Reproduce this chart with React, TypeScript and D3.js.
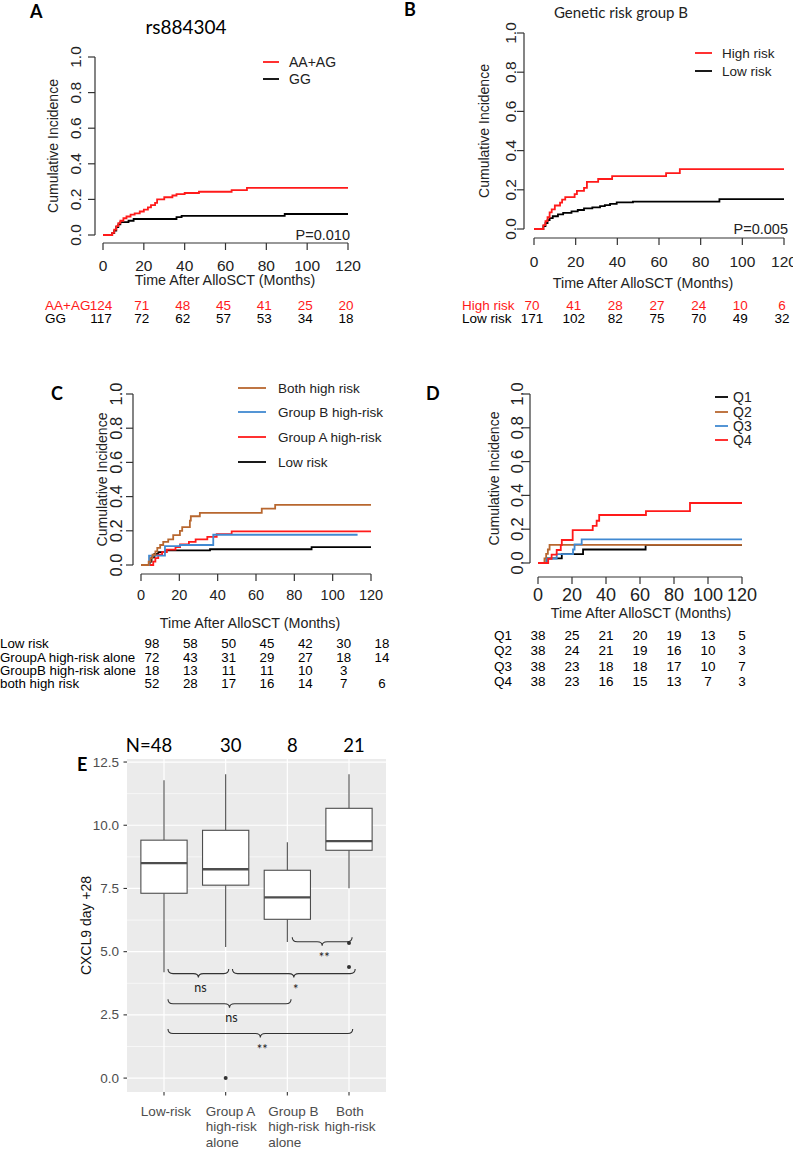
import React from "react";
import * as d3 from "d3";

// shared KM axes
const monthTicks = [0, 20, 40, 60, 80, 100, 120];
const incidenceTicks = [0, 0.2, 0.4, 0.6, 0.8, 1.0];

// panel A: rs884304  [month, cumulative incidence]
const aaAgSteps = [[0, 0], [4.5, 0.012], [5.5, 0.03], [6.5, 0.05], [7.5, 0.066], [8.5, 0.08], [10, 0.094], [11.5, 0.104], [13.5, 0.114], [15.5, 0.122], [18, 0.132], [20, 0.142], [22, 0.155], [23.5, 0.168], [25.5, 0.18], [26.5, 0.2], [30, 0.212], [34, 0.222], [36, 0.23], [40, 0.236], [47, 0.243], [63, 0.252], [70.5, 0.265]];
const ggSteps = [[0, 0], [4.5, 0.01], [5.5, 0.025], [6.5, 0.045], [7.5, 0.06], [8.5, 0.072], [12.5, 0.08], [15, 0.09], [36, 0.1], [38.5, 0.107], [89, 0.118]];
const aaAgAtRisk = [124, 71, 48, 45, 41, 25, 20];
const ggAtRisk = [117, 72, 62, 57, 53, 34, 18];

// panel B: genetic risk group B
const highRiskSteps = [[0, 0], [4.5, 0.02], [5.5, 0.04], [6.5, 0.06], [7.5, 0.085], [8.5, 0.1], [10, 0.12], [12.5, 0.135], [13.5, 0.15], [15, 0.163], [19.5, 0.178], [20.6, 0.195], [24, 0.21], [25.4, 0.24], [30.8, 0.255], [37.5, 0.27], [63.4, 0.285], [70, 0.305]];
const lowRiskSteps = [[0, 0], [4.5, 0.015], [5.5, 0.03], [6.5, 0.045], [7.5, 0.055], [9, 0.065], [11.5, 0.075], [14, 0.082], [18, 0.09], [21, 0.097], [24, 0.105], [28, 0.11], [31.7, 0.117], [34, 0.122], [36.5, 0.128], [39.7, 0.136], [47.5, 0.14], [89, 0.152]];
const highRiskAtRisk = [70, 41, 28, 27, 24, 10, 6];
const lowRiskAtRisk = [171, 102, 82, 75, 70, 49, 32];

// panel C: combined groups
const bothSteps = [[0, 0], [4, 0.02], [5, 0.04], [6, 0.06], [7.5, 0.08], [8.5, 0.1], [10, 0.117], [11.6, 0.135], [14.2, 0.15], [16.8, 0.175], [20.3, 0.2], [21.5, 0.222], [25.5, 0.26], [26, 0.285], [30.7, 0.305], [63, 0.33], [70, 0.352]];
const groupBSteps = [[0, 0], [4.2, 0.055], [12.5, 0.11], [20.4, 0.117], [37.7, 0.177]];
const groupASteps = [[0, 0], [6.4, 0.02], [7.5, 0.04], [9, 0.06], [11, 0.075], [13.5, 0.09], [18, 0.105], [20.4, 0.12], [25, 0.135], [28.5, 0.15], [34.6, 0.165], [39.5, 0.18], [47.3, 0.197]];
const cLowSteps = [[0, 0], [4.5, 0.02], [5.5, 0.045], [7, 0.065], [9, 0.075], [13, 0.085], [36, 0.092], [89, 0.105]];
const cLowAtRisk = [98, 58, 50, 45, 42, 30, 18];
const cGroupAAtRisk = [72, 43, 31, 29, 27, 18, 14];
const cGroupBAtRisk = [18, 13, 11, 11, 10, 3, null];
const cBothAtRisk = [52, 28, 17, 16, 14, 7, 6];

// panel D: quartiles
const q1Steps = [[0, 0], [5, 0.027], [14, 0.053], [26.5, 0.08], [63.3, 0.107]];
const q2Steps = [[0, 0], [3.8, 0.027], [4.8, 0.054], [5.8, 0.08], [6.8, 0.107]];
const q3Steps = [[0, 0], [5.3, 0.026], [11, 0.053], [20.6, 0.08], [21.5, 0.11], [25.7, 0.14]];
const q4Steps = [[0, 0], [6, 0.025], [8, 0.05], [11, 0.077], [13.4, 0.106], [14, 0.136], [20.4, 0.195], [32.2, 0.22], [34.5, 0.25], [36, 0.284], [63.5, 0.307], [89.4, 0.355]];
const q1AtRisk = [38, 25, 21, 20, 19, 13, 5];
const q2AtRisk = [38, 24, 21, 19, 16, 10, 3];
const q3AtRisk = [38, 23, 18, 18, 17, 10, 7];
const q4AtRisk = [38, 23, 16, 15, 13, 7, 3];

// panel E: CXCL9 day +28 boxplots
const boxGroups = [["Low-risk"], ["Group A", "high-risk", "alone"], ["Group B", "high-risk", "alone"], ["Both", "high-risk"]];
const boxN = ["N=48", "30", "8", "21"];
const boxLow = [4.19, 5.18, 5.38, 7.51];
const boxQ1 = [7.31, 7.63, 6.28, 9.01];
const boxMedian = [8.5, 8.26, 7.15, 9.37];
const boxQ3 = [9.41, 9.8, 8.22, 10.67];
const boxHigh = [11.78, 12.02, 9.33, 12.02];
const boxOutliers = [[], [0.0], [], [5.34, 4.39]];
const cxclTicks = [0, 2.5, 5, 7.5, 10, 12.5];
const cxclMinor = [1.25, 3.75, 6.25, 8.75, 11.25];

// comparison braces (group index units) and their labels
const braceFrom = [0.065, 1.11, 0.065, 0.065, 2.08];
const braceTo = [1.05, 3.1, 2.06, 3.06, 3.05];
const braceY = [4.31, 4.31, 3.12, 1.94, 5.57];
const braceLabel = ["ns", "*", "ns", "**", "**"];

const RF = "'Liberation Sans', Arial, Helvetica, sans-serif";
const TF = "Lato, 'Open Sans', sans-serif";
const RED = "#ff1a1a";
const BROWN = "#b8672f";
const BLUE = "#4189d1";

type Curve = { steps: number[][]; end: number; color: string };
type Row = { label: string; values: (number | null)[]; color: string };
type KMSpec = {
  xr: [number, number];
  yr: [number, number];
  xAxisY: number;
  yAxisX: number;
  xTickSize: number;
  yTickSize: number;
  xLabelY: number;
  yLabelX: number;
  xTitle: [number, number];
  yTitleX: number;
  curves: Curve[];
  legend: { x1: number; x2: number; tx: number; ys: number[]; labels: string[]; colors: string[]; size: number };
  table: { rows: Row[]; labelX: number; shift: number; ys: number[]; size: number };
  pText?: [string, number, number];
};

function KMPanel({ p }: { p: KMSpec }) {
  const x = d3.scaleLinear().domain([0, 120]).range(p.xr);
  const y = d3.scaleLinear().domain([0, 1]).range(p.yr);
  const line = d3
    .line<number[]>()
    .x((d) => x(d[0]))
    .y((d) => y(d[1]))
    .curve(d3.curveStepAfter);
  const ax = "#333";
  return (
    <g fontFamily={RF}>
      <line x1={p.yAxisX} x2={p.yAxisX} y1={y(0)} y2={y(1)} stroke={ax} strokeWidth={1.2} />
      {incidenceTicks.map((v) => (
        <g key={v}>
          <line x1={p.yAxisX - 7} x2={p.yAxisX} y1={y(v)} y2={y(v)} stroke={ax} strokeWidth={1.2} />
          <text
            transform={`translate(${p.yLabelX},${y(v)}) rotate(-90)`}
            textAnchor="middle"
            dominantBaseline="central"
            fontSize={p.yTickSize}
            fill="#222"
          >
            {v.toFixed(1)}
          </text>
        </g>
      ))}
      <text
        transform={`translate(${p.yTitleX},${(y(0) + y(1)) / 2}) rotate(-90)`}
        textAnchor="middle"
        dominantBaseline="central"
        fontSize={14}
        fill="#222"
      >
        Cumulative Incidence
      </text>
      <line x1={x(0)} x2={x(120)} y1={p.xAxisY} y2={p.xAxisY} stroke={ax} strokeWidth={1.2} />
      {monthTicks.map((t) => (
        <g key={t}>
          <line x1={x(t)} x2={x(t)} y1={p.xAxisY} y2={p.xAxisY + 7} stroke={ax} strokeWidth={1.2} />
          <text x={x(t)} y={p.xLabelY} textAnchor="middle" dominantBaseline="central" fontSize={p.xTickSize} fill="#222">
            {t}
          </text>
        </g>
      ))}
      <text x={p.xTitle[0]} y={p.xTitle[1]} textAnchor="middle" dominantBaseline="central" fontSize={14.3} fill="#222">
        Time After AlloSCT (Months)
      </text>
      {p.curves.map((c, i) => (
        <path
          key={i}
          d={line([...c.steps, [c.end, c.steps[c.steps.length - 1][1]]]) || ""}
          fill="none"
          stroke={c.color}
          strokeWidth={1.8}
        />
      ))}
      {p.pText && (
        <text x={p.pText[1]} y={p.pText[2]} textAnchor="end" fontSize={14.5} fill="#222">
          {p.pText[0]}
        </text>
      )}
      {p.legend.labels.map((l, i) => (
        <g key={l}>
          <line x1={p.legend.x1} x2={p.legend.x2} y1={p.legend.ys[i]} y2={p.legend.ys[i]} stroke={p.legend.colors[i]} strokeWidth={1.8} />
          <text x={p.legend.tx} y={p.legend.ys[i]} dominantBaseline="central" fontSize={p.legend.size} fill="#222">
            {l}
          </text>
        </g>
      ))}
      {p.table.rows.map((r, i) => (
        <g key={r.label} fill={r.color} fontSize={p.table.size}>
          <text x={p.table.labelX} y={p.table.ys[i]} dominantBaseline="central">
            {r.label}
          </text>
          {r.values.map((v, j) =>
            v === null ? null : (
              <text key={j} x={x(monthTicks[j]) + p.table.shift} y={p.table.ys[i]} textAnchor="middle" dominantBaseline="central">
                {v}
              </text>
            )
          )}
        </g>
      ))}
    </g>
  );
}

const panelA: KMSpec = {
  xr: [103, 348],
  yr: [235, 57],
  xAxisY: 243,
  yAxisX: 95,
  xTickSize: 15.5,
  yTickSize: 15.5,
  xLabelY: 265,
  yLabelX: 75,
  xTitle: [225, 280],
  yTitleX: 53,
  curves: [
    { steps: ggSteps, end: 120, color: "#000" },
    { steps: aaAgSteps, end: 120, color: RED },
  ],
  legend: { x1: 263, x2: 279, tx: 289, ys: [62, 79], labels: ["AA+AG", "GG"], colors: [RED, "#000"], size: 14 },
  table: {
    rows: [
      { label: "AA+AG", values: aaAgAtRisk, color: RED },
      { label: "GG", values: ggAtRisk, color: "#000" },
    ],
    labelX: 45,
    shift: -2,
    ys: [305, 318],
    size: 13.5,
  },
  pText: ["P=0.010", 350, 240],
};

const panelB: KMSpec = {
  xr: [534, 784],
  yr: [229, 33],
  xAxisY: 238,
  yAxisX: 524,
  xTickSize: 15.5,
  yTickSize: 15.5,
  xLabelY: 261,
  yLabelX: 510,
  xTitle: [643, 283],
  yTitleX: 484,
  curves: [
    { steps: lowRiskSteps, end: 120, color: "#000" },
    { steps: highRiskSteps, end: 120, color: RED },
  ],
  legend: { x1: 695, x2: 712, tx: 722, ys: [53, 71], labels: ["High risk", "Low risk"], colors: [RED, "#000"], size: 13.5 },
  table: {
    rows: [
      { label: "High risk", values: highRiskAtRisk, color: RED },
      { label: "Low risk", values: lowRiskAtRisk, color: "#000" },
    ],
    labelX: 462,
    shift: -2,
    ys: [305, 318],
    size: 13.5,
  },
  pText: ["P=0.005", 788, 234],
};

const panelC: KMSpec = {
  xr: [141, 371],
  yr: [565, 394],
  xAxisY: 574,
  yAxisX: 133,
  xTickSize: 14.5,
  yTickSize: 16.5,
  xLabelY: 595,
  yLabelX: 116,
  xTitle: [250, 623],
  yTitleX: 102,
  curves: [
    { steps: cLowSteps, end: 120, color: "#000" },
    { steps: groupASteps, end: 120, color: RED },
    { steps: groupBSteps, end: 113, color: BLUE },
    { steps: bothSteps, end: 120, color: BROWN },
  ],
  legend: {
    x1: 238,
    x2: 266,
    tx: 278,
    ys: [388, 412, 437, 462],
    labels: ["Both high risk", "Group B high-risk", "Group A high-risk", "Low risk"],
    colors: [BROWN, BLUE, RED, "#000"],
    size: 13.5,
  },
  table: {
    rows: [
      { label: " Low risk", values: cLowAtRisk, color: "#000" },
      { label: "GroupA high-risk alone", values: cGroupAAtRisk, color: "#000" },
      { label: "GroupB high-risk alone", values: cGroupBAtRisk, color: "#000" },
      { label: "both high risk", values: cBothAtRisk, color: "#000" },
    ],
    labelX: 0,
    shift: 11,
    ys: [643, 657, 670, 683],
    size: 13.3,
  },
};

const panelD: KMSpec = {
  xr: [538, 742],
  yr: [563, 394],
  xAxisY: 577,
  yAxisX: 530,
  xTickSize: 18,
  yTickSize: 17,
  xLabelY: 595,
  yLabelX: 517,
  xTitle: [641, 613],
  yTitleX: 494,
  curves: [
    { steps: q1Steps, end: 120, color: "#000" },
    { steps: q2Steps, end: 120, color: BROWN },
    { steps: q3Steps, end: 120, color: BLUE },
    { steps: q4Steps, end: 120, color: RED },
  ],
  legend: {
    x1: 715,
    x2: 728,
    tx: 733,
    ys: [397, 412, 426, 440],
    labels: ["Q1", "Q2", "Q3", "Q4"],
    colors: ["#000", BROWN, BLUE, RED],
    size: 14,
  },
  table: {
    rows: [
      { label: "Q1", values: q1AtRisk, color: "#000" },
      { label: "Q2", values: q2AtRisk, color: "#000" },
      { label: "Q3", values: q3AtRisk, color: "#000" },
      { label: "Q4", values: q4AtRisk, color: "#000" },
    ],
    labelX: 494,
    shift: 0,
    ys: [635, 650, 666, 681],
    size: 13.5,
  },
};

function BoxPanel() {
  const x = d3.scaleLinear().domain([-0.6, 3.6]).range([127, 386]);
  const y = d3.scaleLinear().domain([-0.55, 12.62]).range([1092, 759]);
  const bw = 0.75 * (x(1) - x(0));
  const edge = "#4d4d4d";
  const brace = (i: number) => {
    const x1 = x(braceFrom[i]);
    const x2 = x(braceTo[i]);
    const cx = (x1 + x2) / 2;
    const y0 = y(braceY[i]);
    const y1 = y0 + 4.5;
    const y2 = y0 + 8.5;
    const r = 5;
    return `M${x1},${y0} Q${x1},${y1} ${x1 + r},${y1} L${cx - r},${y1} Q${cx},${y1} ${cx},${y2} Q${cx},${y1} ${cx + r},${y1} L${x2 - r},${y1} Q${x2},${y1} ${x2},${y0}`;
  };
  // label alignment for the multi-line category text
  const anchors = ["middle", "start", "start", "middle"];
  const dx = [2, -20, -19, 1];
  return (
    <g>
      <rect x={127} y={759} width={259} height={333} fill="#ebebeb" />
      {cxclMinor.map((v) => (
        <line key={v} x1={127} x2={386} y1={y(v)} y2={y(v)} stroke="#fff" strokeWidth={0.6} />
      ))}
      {cxclTicks.map((v) => (
        <line key={v} x1={127} x2={386} y1={y(v)} y2={y(v)} stroke="#fff" strokeWidth={1.2} />
      ))}
      {boxGroups.map((_, i) => (
        <line key={i} x1={x(i)} x2={x(i)} y1={759} y2={1092} stroke="#fff" strokeWidth={1.2} />
      ))}
      {boxGroups.map((_, i) => (
        <g key={i} stroke={edge} strokeWidth={1.1}>
          <line x1={x(i)} x2={x(i)} y1={y(boxHigh[i])} y2={y(boxQ3[i])} />
          <line x1={x(i)} x2={x(i)} y1={y(boxQ1[i])} y2={y(boxLow[i])} />
          <rect x={x(i) - bw / 2} y={y(boxQ3[i])} width={bw} height={y(boxQ1[i]) - y(boxQ3[i])} fill="#fff" />
          <line x1={x(i) - bw / 2} x2={x(i) + bw / 2} y1={y(boxMedian[i])} y2={y(boxMedian[i])} strokeWidth={2.3} />
          {boxOutliers[i].map((o, k) => (
            <circle key={k} cx={x(i)} cy={y(o)} r={2} fill="#333" stroke="none" />
          ))}
        </g>
      ))}
      {braceLabel.map((l, i) => (
        <g key={i}>
          <path d={brace(i)} fill="none" stroke="#333" strokeWidth={1.1} />
          <text
            x={(x(braceFrom[i]) + x(braceTo[i])) / 2 + 2}
            y={y(braceY[i]) + 8.5 + (l === "ns" ? 14 : 16)}
            textAnchor="middle"
            fontFamily={TF}
            fontSize={l === "ns" ? 12.5 : 13}
            fill="#222"
          >
            {l}
          </text>
        </g>
      ))}
      {cxclTicks.map((v) => (
        <g key={v}>
          <line x1={123.5} x2={127} y1={y(v)} y2={y(v)} stroke="#333" strokeWidth={1.1} />
          <text x={119} y={y(v)} textAnchor="end" dominantBaseline="central" fontFamily={RF} fontSize={13.5} fill="#4d4d4d">
            {v.toFixed(1)}
          </text>
        </g>
      ))}
      {boxGroups.map((lines, i) => (
        <g key={i}>
          <line x1={x(i)} x2={x(i)} y1={1092} y2={1095.5} stroke="#333" strokeWidth={1.1} />
          {lines.map((s, k) => (
            <text
              key={k}
              x={x(i) + dx[i]}
              y={1111 + k * 15.5}
              textAnchor={anchors[i]}
              dominantBaseline="central"
              fontFamily={RF}
              fontSize={13.5}
              fill="#4d4d4d"
            >
              {s}
            </text>
          ))}
          <text x={x(i) + (i === 0 ? -15 : 5)} y={752} textAnchor="middle" fontFamily={TF} fontSize={18.5} fill="#000">
            {boxN[i]}
          </text>
        </g>
      ))}
      <text
        transform={`translate(86,${(759 + 1092) / 2}) rotate(-90)`}
        textAnchor="middle"
        dominantBaseline="central"
        fontFamily={RF}
        fontSize={14}
        fill="#111"
      >
        CXCL9 day +28
      </text>
    </g>
  );
}

export default function App() {
  const letter = (s: string, px: number, py: number) => (
    <text x={px} y={py} fontFamily={TF} fontWeight={700} fontSize={18} fill="#000">
      {s}
    </text>
  );
  return (
    <svg width={793} height={1149} style={{ position: "absolute", left: 0, top: 0, background: "#fff" }}>
      <rect width={793} height={1149} fill="#fff" />
      {letter("A", 30, 18)}
      {letter("B", 404, 16)}
      {letter("C", 51, 400)}
      {letter("D", 426, 400)}
      {letter("E", 77, 771)}
      <text x={186} y={34} textAnchor="middle" fontFamily={TF} fontSize={19} fill="#000">
        rs884304
      </text>
      <text x={621} y={18} textAnchor="middle" fontFamily={TF} fontSize={15} fill="#222">
        Genetic risk group B
      </text>
      <KMPanel p={panelA} />
      <KMPanel p={panelB} />
      <KMPanel p={panelC} />
      <KMPanel p={panelD} />
      <BoxPanel />
    </svg>
  );
}
